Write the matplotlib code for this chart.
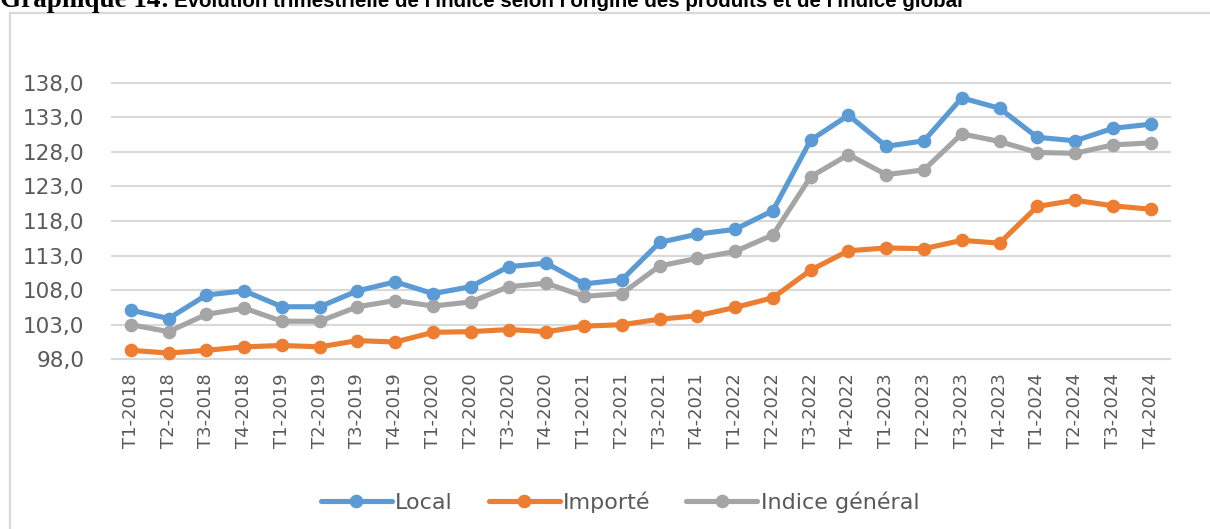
#!/usr/bin/env python3
"""Graphique 14 : indice trimestriel selon l'origine des produits."""
import matplotlib
matplotlib.use("Agg")
import matplotlib.pyplot as plt
from matplotlib.lines import Line2D

quarters = [f"T{q}-{y}" for y in range(2018, 2025) for q in range(1, 5)]
local = [105.1, 103.9, 107.3, 107.9, 105.6, 105.6, 107.9, 109.2, 107.5, 108.5,
         111.4, 111.9, 108.9, 109.5, 114.9, 116.1, 116.8, 119.5, 129.7, 133.3,
         128.8, 129.6, 135.8, 134.3, 130.1, 129.6, 131.4, 132.0]
importe = [99.3, 98.9, 99.3, 99.8, 100.0, 99.8, 100.7, 100.5, 101.9, 102.0,
           102.3, 102.0, 102.8, 103.0, 103.8, 104.3, 105.5, 106.9, 110.9, 113.7,
           114.1, 114.0, 115.2, 114.8, 120.1, 121.0, 120.2, 119.7]
general = [103.0, 102.0, 104.5, 105.4, 103.5, 103.5, 105.6, 106.5, 105.7, 106.3,
           108.5, 109.0, 107.1, 107.5, 111.5, 112.6, 113.6, 116.0, 124.4, 127.6,
           124.7, 125.4, 130.6, 129.5, 127.9, 127.8, 129.0, 129.3]
series_names = ["Local", "Importé", "Indice général"]
yticks = [98, 103, 108, 113, 118, 123, 128, 133, 138]

COLORS = ["#5B9BD5", "#ED7D31", "#A5A5A5"]
TXT = "#595959"
GRID = "#d9d9d9"

W, H = 1210, 529
fig = plt.figure(figsize=(W / 100, H / 100), dpi=100)
ax = fig.add_axes([112 / W, 1 - 359.3 / H, (1169.5 - 112) / W, (359.3 - 82.7) / H])

x = range(len(quarters))
for vals, name, col in zip([local, importe, general], series_names, COLORS):
    ax.plot(x, vals, color=col, lw=3.7, marker="o", ms=8.8, label=name,
            solid_capstyle="round", clip_on=False, zorder=3)

ax.set_xlim(-0.5, len(quarters) - 0.5)
ax.set_ylim(98, 138)
ax.set_yticks(yticks)
ax.set_yticklabels([f"{v:.1f}".replace(".", ",") for v in yticks])
ax.set_xticks(list(x))
ax.set_xticklabels(quarters, rotation=90)
ax.tick_params(axis="y", length=0, pad=20, labelsize=15.5, labelcolor=TXT)
ax.tick_params(axis="x", length=0, pad=10, labelsize=13, labelcolor=TXT)
for s in ax.spines.values():
    s.set_visible(False)
ax.grid(axis="y", color=GRID, lw=1.5)
ax.set_axisbelow(True)
for g in ax.get_ygridlines():
    g.set_clip_on(False)

ax.legend(loc="center", bbox_to_anchor=(620 / W, 1 - 502 / H), bbox_transform=fig.transFigure,
          ncol=3, frameon=False, fontsize=16, labelcolor=TXT, handlelength=3.2,
          handletextpad=0.15, columnspacing=1.6)

# outer chart frame (left and top edges only visible in the crop)
fig.add_artist(Line2D([9.5 / W, 9.5 / W], [0, 1 - 13 / H], color=GRID, lw=1.6,
                      transform=fig.transFigure))
fig.add_artist(Line2D([9.5 / W, 1], [1 - 13 / H, 1 - 13 / H], color=GRID, lw=1.6,
                      transform=fig.transFigure))

# title, cut at the top edge like the source
ty = 1 - 7 / H
t1 = fig.text(0.0, ty, "Graphique 14:", family="Liberation Serif", weight="bold",
              fontsize=19.5, va="baseline", ha="left", color="black")
r = fig.canvas.get_renderer()
x1 = t1.get_window_extent(r).x1 / W
fig.text(x1 + 5 / W, ty, "Évolution trimestrielle de l'indice selon l'origine des produits "
         "et de l'indice global", family="Liberation Sans", weight="bold",
         fontsize=14.8, va="baseline", ha="left", color="black")

fig.savefig("out.png", dpi=100)
